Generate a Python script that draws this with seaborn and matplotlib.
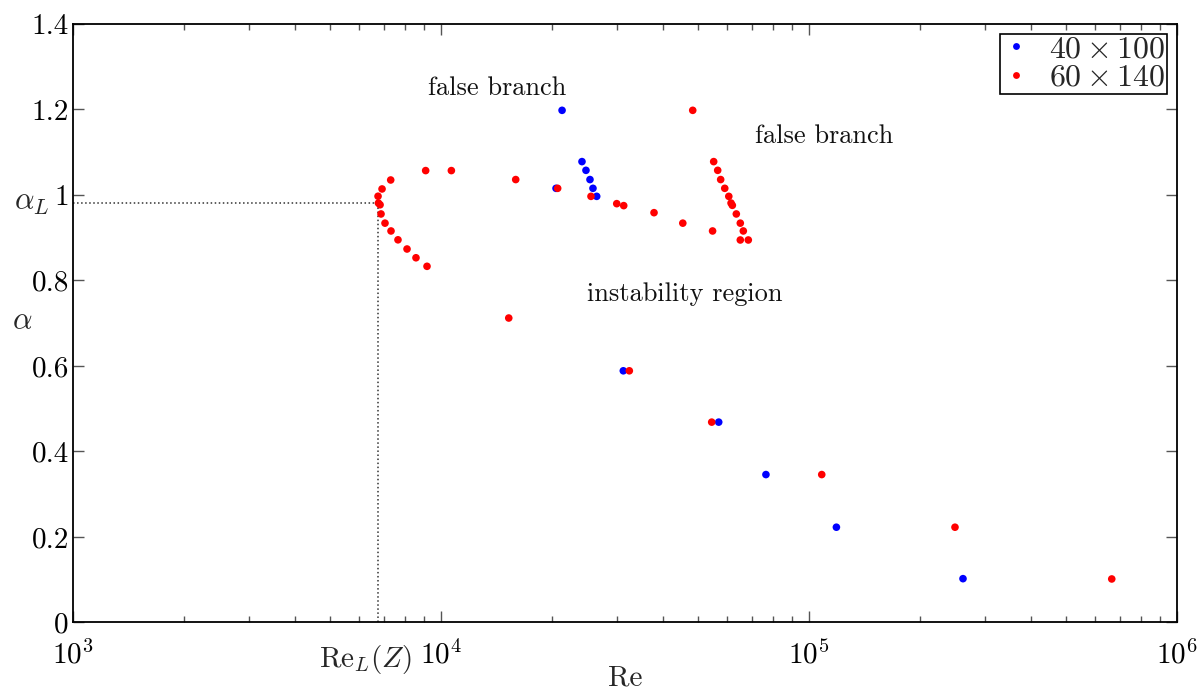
import numpy as np
import pandas as pd
import matplotlib
matplotlib.use('Agg')
import matplotlib.pyplot as plt
import seaborn as sns
from matplotlib.ticker import LogLocator, NullFormatter, FixedLocator, FixedFormatter

sns.set_style('ticks')
plt.rcParams['font.family'] = ['cmr10', 'DejaVu Serif']
plt.rcParams['mathtext.fontset'] = 'cm'
plt.rcParams['axes.formatter.use_mathtext'] = True
plt.rcParams['axes.unicode_minus'] = False

series_labels = [r'$40\times100$', r'$60\times140$']
series_colors = ['#0000ff', '#ff0000']

re_40x100 = [21330, 20540, 24160, 24770, 25400, 25880, 26490,
             31290, 56840, 76380, 118700, 262100]
alpha_40x100 = [1.198, 1.0155, 1.078, 1.0576, 1.036, 1.0155, 0.9967,
                0.5885, 0.4684, 0.3457, 0.2225, 0.1021]

re_60x140 = [9085, 10670, 7300, 6915, 6744, 6760, 6830, 6871, 7044, 7314, 7640, 8085, 8551, 9162,
             15960, 20750, 25560, 30030, 31370, 37920, 45400, 54700, 48310,
             55080, 56480, 57540, 59030, 60540, 61400, 61900, 63460, 65060, 66300, 65060, 68400,
             15280, 32490, 54400, 108300, 249300, 664800]
alpha_60x140 = [1.057, 1.057, 1.035, 1.014, 0.997, 0.981, 0.977, 0.9555, 0.934, 0.9157, 0.895, 0.8735, 0.853, 0.833,
                1.036, 1.0155, 0.9967, 0.9796, 0.975, 0.9585, 0.934, 0.9157, 1.198,
                1.078, 1.0576, 1.036, 1.0155, 0.9967, 0.981, 0.9757, 0.9555, 0.934, 0.9157, 0.8946, 0.8946,
                0.712, 0.5885, 0.4684, 0.3457, 0.2225, 0.1014]

re_L = 6745
alpha_L = 0.981

y_ticks = [0, 0.2, 0.4, 0.6, 0.8, 1.0, 1.2, 1.4]
y_tick_labels = ['0', '0.2', '0.4', '0.6', '0.8', '1', '1.2', '1.4']

annotations = [
    ('false branch', 14190, 1.251),
    ('false branch', 109900, 1.137),
    ('instability region', 46030, 0.769),
]

df = pd.concat([
    pd.DataFrame({'Re': re_40x100, 'alpha': alpha_40x100, 'grid': series_labels[0]}),
    pd.DataFrame({'Re': re_60x140, 'alpha': alpha_60x140, 'grid': series_labels[1]}),
], ignore_index=True)

fig = plt.figure(figsize=(12, 6.93), dpi=100)
ax = fig.add_axes([73 / 1200, (693 - 622.3) / 693, (1177 - 73) / 1200, (622.3 - 24) / 693])

sns.scatterplot(data=df, x='Re', y='alpha', hue='grid', hue_order=series_labels,
                palette=dict(zip(series_labels, series_colors)),
                s=30, linewidth=0, ax=ax, zorder=3)

ax.set_xscale('log')
ax.set_xlim(1e3, 1e6)
ax.set_ylim(0, 1.4)

# dotted guide lines for Re_L and alpha_L
ax.plot([1e3, re_L], [alpha_L, alpha_L], linestyle=':', color='#333333', linewidth=1.1, zorder=2)
ax.plot([re_L, re_L], [0, alpha_L], linestyle=':', color='#333333', linewidth=1.1, zorder=2)

ax.yaxis.set_major_locator(FixedLocator(y_ticks))
ax.yaxis.set_major_formatter(FixedFormatter(y_tick_labels))
ax.xaxis.set_major_locator(LogLocator(base=10, numticks=10))
ax.xaxis.set_minor_locator(LogLocator(base=10, subs=np.arange(2, 10), numticks=20))
ax.xaxis.set_minor_formatter(NullFormatter())

ax.tick_params(axis='both', which='both', direction='in', top=True, right=True,
               colors='#555555', labelcolor='black', labelsize=21)
ax.tick_params(axis='both', which='major', length=8, width=1)
ax.tick_params(axis='both', which='minor', length=4.5, width=1)
ax.tick_params(axis='x', which='major', pad=13)
ax.tick_params(axis='y', which='major', pad=3)
for sp in ax.spines.values():
    sp.set_color('black')
    sp.set_linewidth(1.3)

ax.set_xlabel('Re', fontsize=21, labelpad=-3)
ax.set_ylabel(r'$\alpha$', fontsize=22, rotation=0, labelpad=0)
ax.yaxis.set_label_coords(-0.046, 0.48)

# special labels
ax.annotate(r'$\mathrm{Re}_L(Z)$', xy=(re_L, 0), xycoords='data',
            xytext=(-9, -15), textcoords='offset points', ha='center', va='top', fontsize=21)
ax.annotate(r'$\alpha_L$', xy=(0, alpha_L), xycoords=('axes fraction', 'data'),
            xytext=(-17, 0), textcoords='offset points', ha='right', va='center', fontsize=22)

for txt, xv, yv in annotations:
    ax.text(xv, yv, txt, ha='center', va='center', fontsize=19, color='#111111')

leg = ax.legend(loc='upper right', frameon=True, fancybox=False, fontsize=23,
                edgecolor='black', framealpha=1, borderpad=0.05, handletextpad=0.6,
                handlelength=0.9, labelspacing=0.0, markerscale=0.9, borderaxespad=0.3)
leg.get_frame().set_linewidth(1.2)
leg.set_title(None)

fig.savefig('out.png', dpi=100)
